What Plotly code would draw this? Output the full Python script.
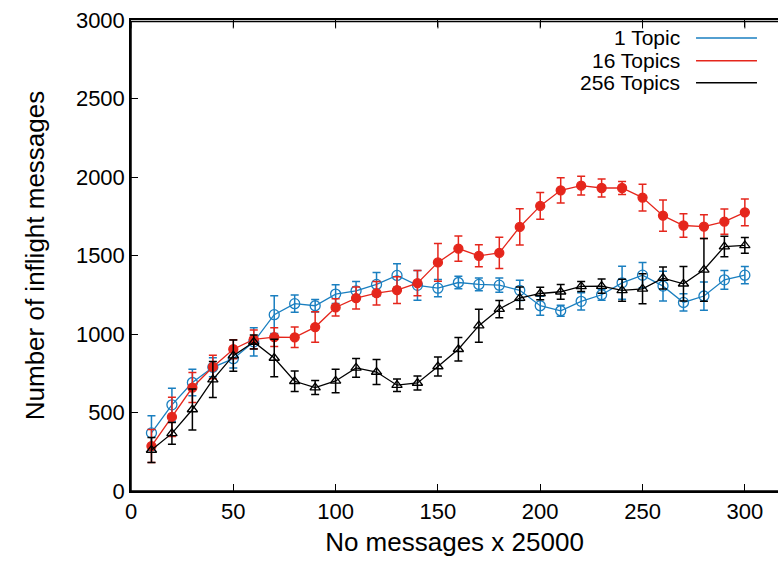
import plotly.graph_objects as go

x_vals = [10, 20, 30, 40, 50, 60, 70, 80, 90, 100, 110, 120, 130, 140, 150,
          160, 170, 180, 190, 200, 210, 220, 230, 240, 250, 260, 270, 280, 290, 300]

one_topic = [370, 549, 691, 788, 843, 950, 1123, 1193, 1180, 1254, 1275, 1316, 1373, 1310, 1292,
             1328, 1316, 1311, 1278, 1180, 1148, 1208, 1250, 1326, 1375, 1305, 1201, 1242, 1345, 1375]
one_topic_err = [110, 105, 85, 60, 60, 90, 120, 55, 40, 60, 60, 75, 75, 95, 55,
                 40, 40, 45, 65, 60, 35, 55, 35, 105, 80, 95, 55, 90, 60, 55]

sixteen_topics = [286, 472, 659, 790, 903, 966, 980, 979, 1044, 1169, 1229, 1260, 1280, 1324, 1456,
                  1544, 1498, 1517, 1682, 1816, 1915, 1945, 1930, 1930, 1869, 1754, 1691, 1684, 1716, 1775]
sixteen_topics_err = [105, 125, 95, 75, 60, 60, 60, 65, 97, 55, 70, 75, 85, 80, 120,
                      80, 70, 100, 115, 85, 80, 60, 57, 42, 85, 100, 75, 75, 80, 85]

twofiftysix_topics = [261, 367, 519, 710, 862, 949, 847, 699, 659, 701, 784, 758, 674, 688, 793,
                      903, 1053, 1159, 1229, 1258, 1269, 1303, 1305, 1278, 1288, 1356, 1320, 1409, 1557, 1564]
twofiftysix_topics_err = [80, 70, 130, 115, 100, 45, 120, 65, 45, 75, 60, 80, 40, 45, 60,
                          75, 105, 55, 70, 40, 47, 32, 45, 70, 95, 70, 110, 200, 65, 50]

series_names = ["1 Topic", "16 Topics", "256 Topics"]
x_ticks = [0, 50, 100, 150, 200, 250, 300]
y_ticks = [0, 500, 1000, 1500, 2000, 2500, 3000]

BLUE = "#1a7fc0"
RED = "#e5261c"
BLACK = "#000000"
FONT = "Liberation Sans, Arial, sans-serif"
FS = 22

fig = go.Figure()

def add_series(y, err, name, color, symbol, size):
    fig.add_trace(go.Scatter(
        x=x_vals, y=y, name=name, mode="lines+markers",
        line=dict(color=color, width=1.3),
        marker=dict(color=color, symbol=symbol, size=size,
                    line=dict(color=color, width=1.3)),
        error_y=dict(type="data", array=err, visible=True, color=color,
                     thickness=1.5, width=4),
        showlegend=False,
    ))

add_series(one_topic, one_topic_err, series_names[0], BLUE, "circle-open", 10)
add_series(sixteen_topics, sixteen_topics_err, series_names[1], RED, "circle", 9)
add_series(twofiftysix_topics, twofiftysix_topics_err, series_names[2], BLACK, "triangle-up-open", 9)

# custom legend (text on left, line sample on right)
legend_rows = [0.962, 0.9133, 0.8666]
for name, color, yy in zip(series_names, [BLUE, RED, BLACK], legend_rows):
    fig.add_annotation(x=0.8516, y=yy, xref="paper", yref="paper", text=name,
                       showarrow=False, xanchor="right", yanchor="middle",
                       font=dict(family=FONT, size=21, color="black"))
    fig.add_shape(type="line", xref="paper", yref="paper",
                  x0=0.8733, x1=0.9675, y0=yy, y1=yy,
                  line=dict(color=color, width=1.5))

# plot frame (right edge runs off the canvas, as in the reference)
fig.add_shape(type="rect", xref="paper", yref="paper", x0=0, x1=1.03, y0=0, y1=0.997,
              line=dict(color="black", width=1.5), fillcolor="rgba(0,0,0,0)", layer="above")
for t in x_ticks:
    fig.add_shape(type="line", xref="x", yref="paper", ysizemode="pixel", yanchor=0.997,
                  x0=t, x1=t, y0=0, y1=-7, line=dict(color="black", width=1),
                  layer="above")

fig.update_layout(
    width=778, height=564,
    margin=dict(l=131, r=0, t=20, b=73),
    paper_bgcolor="white", plot_bgcolor="white",
    font=dict(family=FONT, size=FS, color="black"),
    showlegend=False,
)
fig.update_xaxes(
    range=[0, 316.2], tickvals=x_ticks, ticks="inside", ticklen=7, tickwidth=1,
    tickcolor="black", showline=True, linecolor="black", linewidth=1.5,
    mirror="ticks", showgrid=False, zeroline=False, ticklabeloverflow="allow",
    title=dict(text="No messages x 25000", standoff=10),
)
fig.update_yaxes(
    range=[0, 3000], tickvals=y_ticks, ticks="inside", ticklen=7, tickwidth=1,
    tickcolor="black", showline=True, linecolor="black", linewidth=1.5,
    mirror=False, showgrid=False, zeroline=False, ticklabeloverflow="allow",
    title=dict(text="Number of inflight messages", standoff=24),
)

fig.write_html("out.html", config={"displayModeBar": False},
               post_script="document.body.style.margin='0';")
